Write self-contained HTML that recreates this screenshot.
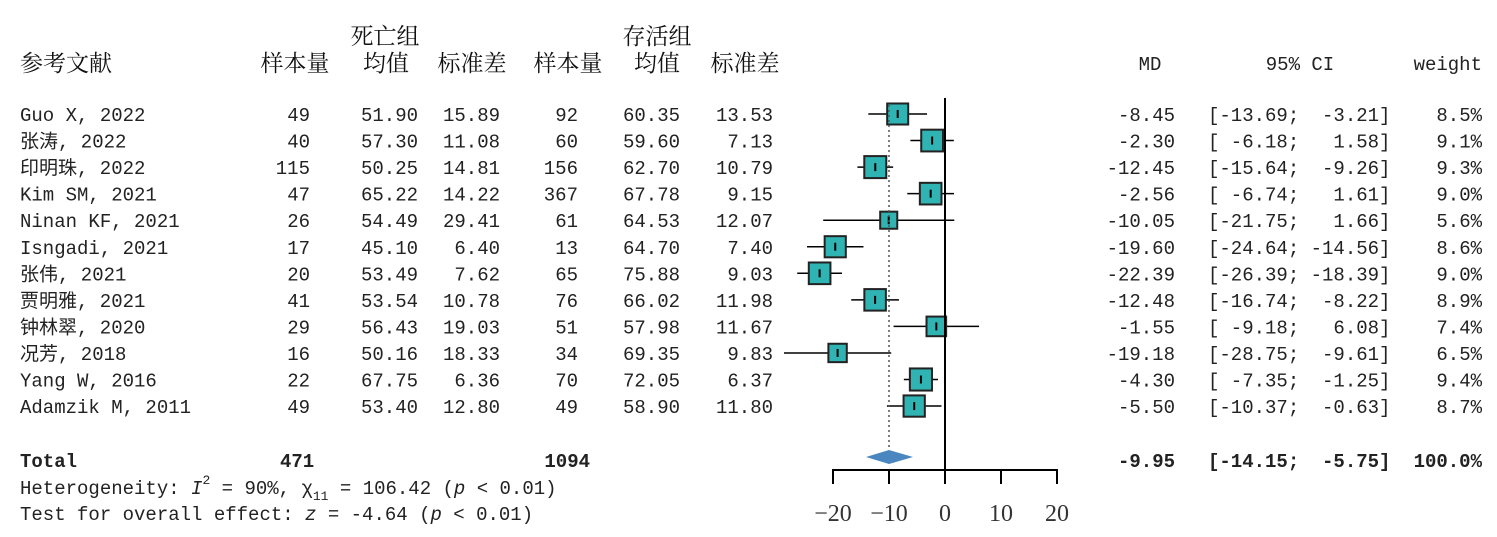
<!DOCTYPE html>
<html><head><meta charset="utf-8"><style>
body{margin:0;background:#fff}
svg text{font-family:"Liberation Mono","Noto Sans CJK SC",monospace;font-size:19px;fill:#222;white-space:pre}
.h{font-family:"Liberation Serif","Noto Serif CJK SC",serif;font-size:23px;fill:#111}
.t{font-family:"Liberation Serif",serif;font-size:24px;fill:#333}
.b{font-weight:bold}
</style></head><body>
<svg width="1497" height="532" xmlns="http://www.w3.org/2000/svg" xml:space="preserve">
<text class="h" x="385" y="44" text-anchor="middle">死亡组</text>
<text class="h" x="657" y="44" text-anchor="middle">存活组</text>
<text class="h" x="20" y="71">参考文献</text>
<text class="h" x="295" y="71" text-anchor="middle">样本量</text>
<text class="h" x="386" y="71" text-anchor="middle">均值</text>
<text class="h" x="472" y="71" text-anchor="middle">标准差</text>
<text class="h" x="568" y="71" text-anchor="middle">样本量</text>
<text class="h" x="657" y="71" text-anchor="middle">均值</text>
<text class="h" x="745" y="71" text-anchor="middle">标准差</text>
<text x="1150" y="70" text-anchor="middle">MD</text>
<text x="1300" y="70" text-anchor="middle">95% CI</text>
<text x="1482" y="70" text-anchor="end">weight</text>
<g id="rows"></g>
<line x1="945" y1="98" x2="945" y2="470" stroke="#000" stroke-width="2"/>
<line x1="889" y1="105" x2="889" y2="450" stroke="#555" stroke-width="1.5" stroke-dasharray="2,3"/>
<polygon points="866,457 889,450 913,457 889,464" fill="#4a86c0"/>
<line x1="833" y1="470" x2="1057" y2="470" stroke="#000" stroke-width="2"/>
<g stroke="#000" stroke-width="2">
<line x1="833" y1="469" x2="833" y2="484"/><line x1="889" y1="469" x2="889" y2="484"/><line x1="945" y1="469" x2="945" y2="484"/><line x1="1001" y1="469" x2="1001" y2="484"/><line x1="1057" y1="469" x2="1057" y2="484"/>
</g>
<text class="t" x="833" y="521" text-anchor="middle">−20</text><text class="t" x="889" y="521" text-anchor="middle">−10</text><text class="t" x="945" y="521" text-anchor="middle">0</text><text class="t" x="1001" y="521" text-anchor="middle">10</text><text class="t" x="1057" y="521" text-anchor="middle">20</text>
<text class="b" x="20" y="467">Total</text>
<text class="b" x="280" y="467">471</text>
<text class="b" x="590" y="467" text-anchor="end">1094</text>
<text class="b" x="1175" y="467" text-anchor="end">-9.95</text>
<text class="b" x="1208" y="467">[-14.15;  -5.75]</text>
<text class="b" x="1482" y="467" text-anchor="end">100.0%</text>
<text x="20" y="494">Heterogeneity: <tspan font-style="italic">I</tspan><tspan dy="-10" font-size="13">2</tspan><tspan dy="10"> = 90%, χ</tspan><tspan dy="6" font-size="13">11</tspan><tspan dy="-6"> = 106.42 (</tspan><tspan font-style="italic">p</tspan> &lt; 0.01)</text>
<text x="20" y="520">Test for overall effect: <tspan font-style="italic">z</tspan> = -4.64 (<tspan font-style="italic">p</tspan> &lt; 0.01)</text>
</svg>
<script>
var d=[["Guo X, 2022",49,"51.90","15.89",92,"60.35","13.53",-8.45,-13.69,-3.21,8.5],
["张涛, 2022",40,"57.30","11.08",60,"59.60","7.13",-2.30,-6.18,1.58,9.1],
["印明珠, 2022",115,"50.25","14.81",156,"62.70","10.79",-12.45,-15.64,-9.26,9.3],
["Kim SM, 2021",47,"65.22","14.22",367,"67.78","9.15",-2.56,-6.74,1.61,9.0],
["Ninan KF, 2021",26,"54.49","29.41",61,"64.53","12.07",-10.05,-21.75,1.66,5.6],
["Isngadi, 2021",17,"45.10","6.40",13,"64.70","7.40",-19.60,-24.64,-14.56,8.6],
["张伟, 2021",20,"53.49","7.62",65,"75.88","9.03",-22.39,-26.39,-18.39,9.0],
["贾明雅, 2021",41,"53.54","10.78",76,"66.02","11.98",-12.48,-16.74,-8.22,8.9],
["钟林翠, 2020",29,"56.43","19.03",51,"57.98","11.67",-1.55,-9.18,6.08,7.4],
["况芳, 2018",16,"50.16","18.33",34,"69.35","9.83",-19.18,-28.75,-9.61,6.5],
["Yang W, 2016",22,"67.75","6.36",70,"72.05","6.37",-4.30,-7.35,-1.25,9.4],
["Adamzik M, 2011",49,"53.40","12.80",49,"58.90","11.80",-5.50,-10.37,-0.63,8.7]];
function X(v){return 945+5.6*v}
function p(s,n){s=String(s);while(s.length<n)s=" "+s;return s}
var h="";
d.forEach(function(r,i){var y=114+i*26.55,t=y+7;
h+='<text x="20" y="'+t+'">'+r[0]+'</text>';
[[1,310],[2,418],[3,500],[4,578],[5,680],[6,773]].forEach(function(c){h+='<text x="'+c[1]+'" y="'+t+'" text-anchor="end">'+r[c[0]]+'</text>'});
h+='<text x="1175" y="'+t+'" text-anchor="end">'+r[7].toFixed(2)+'</text>';
h+='<text x="1208" y="'+t+'">['+p(r[8].toFixed(2),6)+'; '+p(r[9].toFixed(2),6)+']</text>';
h+='<text x="1482" y="'+t+'" text-anchor="end">'+r[10].toFixed(1)+'%</text>';
var s=22*Math.sqrt(r[10]/9.3);
h+='<line x1="'+X(r[8])+'" y1="'+y+'" x2="'+X(r[9])+'" y2="'+y+'" stroke="#000" stroke-width="1.5"/>';
h+='<rect x="'+(X(r[7])-s/2)+'" y="'+(y-s/2)+'" width="'+s+'" height="'+s+'" fill="#2fb3b3" stroke="#222" stroke-width="2"/>';
h+='<line x1="'+X(r[7])+'" y1="'+(y-4)+'" x2="'+X(r[7])+'" y2="'+(y+4)+'" stroke="#000" stroke-width="2"/>';
});
document.getElementById("rows").innerHTML=h;
</script>
</body></html>
